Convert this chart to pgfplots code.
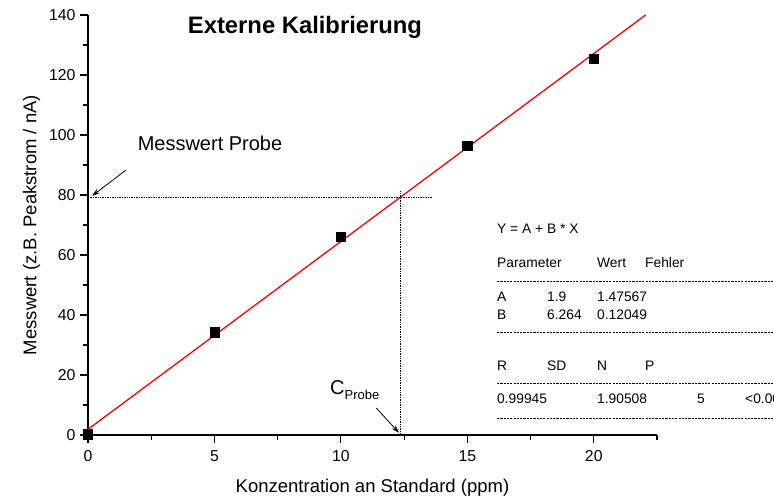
\documentclass[border=0pt]{standalone}
\usepackage{fontspec}
\setmainfont{Liberation Sans}
\usepackage{pgfplots}
\pgfplotsset{compat=1.18}
\usetikzlibrary{arrows.meta}
\begin{document}
\begin{tikzpicture}[x=1pt,y=1pt]
\begin{axis}[
  at={(0,0)}, anchor=south west,
  scale only axis, width=569pt, height=420pt,
  xmin=0, xmax=22.5, ymin=0, ymax=140,
  axis x line*=bottom, axis y line*=left,
  axis line style={-, line width=1.1pt},
  xtick={0,5,10,15,20}, ytick={0,20,...,140},
  minor xtick={2.5,7.5,12.5,17.5,22.5},
  minor ytick={10,30,...,130},
  tick align=outside,
  major tick length=8pt, minor tick length=4.5pt,
  every tick/.style={black, line width=1.1pt},
  tick label style={font=\fontsize{15.8}{18}\selectfont},
  xticklabel style={yshift=-4pt},
  yticklabel style={xshift=-1pt},
  /pgf/number format/assume math mode=true,
  xlabel={Konzentration an Standard (ppm)},
  ylabel={Messwert (z.B. Peakstrom / nA)},
  label style={font=\fontsize{18.5}{22}\selectfont},
  xlabel style={yshift=-11pt},
  ylabel style={yshift=2pt},
  clip=true,
]
\addplot[red, line width=1.3pt] coordinates {(0,1.9) (22.05,140)};
\addplot[black, line width=0.7pt, densely dotted] coordinates {(0,79.3) (13.6,79.3)};
\addplot[black, line width=0.7pt, densely dotted] coordinates {(12.36,0) (12.36,81.5)};
\addplot[only marks, mark=square*, mark size=4.7pt, black] coordinates {
 (0,0.3) (5,34.3) (10,66.2) (15,96.5) (20,125.4)};
\draw[-{Stealth[length=8pt,width=5pt]}, line width=0.8pt] (axis cs:1.5,88.3) -- (axis cs:0.16,79.7);
\draw[-{Stealth[length=8pt,width=5pt]}, line width=0.8pt] (axis cs:11.4,9) -- (axis cs:12.3,0.7);
\end{axis}
\node[font=\fontsize{23.8}{28}\selectfont\bfseries] at (217,408) {Externe Kalibrierung};
\node[font=\fontsize{20}{24}\selectfont] at (122,292) {Messwert Probe};
\node[anchor=west, inner sep=0pt, font=\fontsize{20}{24}\selectfont] at (242,45) {C\raisebox{-0.45ex}{\fontsize{13}{15}\selectfont Probe}};
\begin{scope}[every node/.style={anchor=west, inner sep=0pt, font=\fontsize{13.8}{16}\selectfont}]
\node at (409,206) {Y = A + B * X};
\node at (409,172) {Parameter};
\node at (509,172) {Wert};
\node at (557,172) {Fehler};
\node at (409,138) {A};
\node at (459,138) {1.9};
\node at (509,138) {1.47567};
\node at (409,120) {B};
\node at (459,120) {6.264};
\node at (509,120) {0.12049};
\node at (409,69) {R};
\node at (459,69) {SD};
\node at (509,69) {N};
\node at (557,69) {P};
\node at (409,36) {0.99945};
\node at (509,36) {1.90508};
\node at (609,36) {5};
\node at (657,36) {<0.0001};
\end{scope}
\foreach \yy in {154,103,52,17} {
  \draw[line width=0.6pt, dash pattern=on 2.2pt off 1.1pt] (409,\yy) -- (700,\yy);
}
\pgfresetboundingbox
\useasboundingbox (-88,-66) rectangle (686,435);
\end{tikzpicture}
\end{document}
